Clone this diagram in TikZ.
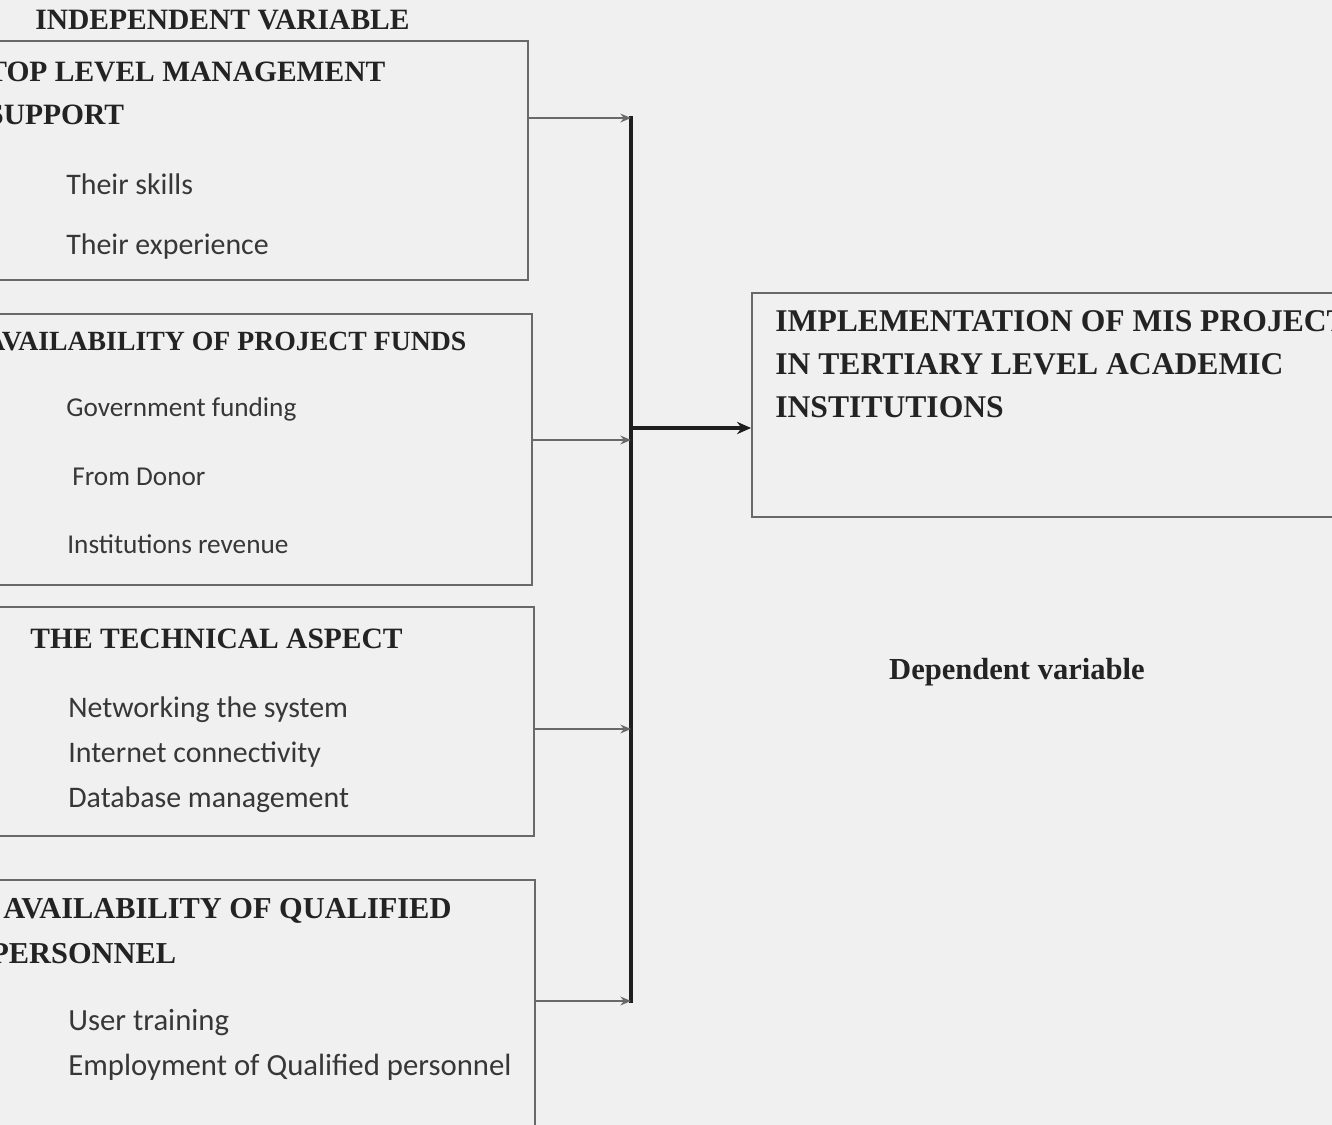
\documentclass[tikz,border=0pt]{standalone}
\usepackage{fontspec}
\setmainfont{Liberation Serif}
\newfontfamily\itemfont{Carlito}
\usetikzlibrary{fit,arrows.meta}
\definecolor{bgc}{RGB}{240,240,240}
\definecolor{linec}{RGB}{105,105,105}
\definecolor{barc}{RGB}{30,30,30}
\definecolor{txtc}{RGB}{35,35,35}
\definecolor{itemc}{RGB}{55,55,55}
\begin{document}
\begin{tikzpicture}[x=0.02cm,y=-0.02cm,
  box/.style={draw=linec, line width=1.1pt, inner sep=0pt},
  head/.style={anchor=west, inner sep=0pt, text=txtc, font=\bfseries\fontsize{16.8}{20}\selectfont},
  headsm/.style={head, font=\bfseries\fontsize{15.8}{18}\selectfont},
  headlg/.style={head, font=\bfseries\fontsize{17.3}{20}\selectfont},
  tgthead/.style={head, font=\bfseries\fontsize{18}{22}\selectfont},
  item/.style={anchor=west, inner sep=0pt, text=itemc, font=\itemfont\fontsize{17}{20}\selectfont},
  itemsm/.style={item, font=\itemfont\fontsize{15.5}{18}\selectfont},
  itemlg/.style={item, font=\itemfont\fontsize{17.5}{20}\selectfont},
  feed/.style={draw=linec, line width=1.1pt, -{Stealth[length=6pt,width=5pt]}},
  bar/.style={draw=barc, line width=2.8pt, line cap=rect}
]
\fill[bgc] (0,0) rectangle (1332,1125);
\useasboundingbox (0,0) rectangle (1332,1125);
\clip (0,0) rectangle (1332,1125);

\node[head, font=\bfseries\fontsize{16.8}{20}\selectfont] (title) at (35,20) {INDEPENDENT VARIABLE};

% box 1
\coordinate (b1a) at (-10,41); \coordinate (b1b) at (528,280);
\node[box, fit=(b1a)(b1b)] (b1) {};
\node[head] (h1a) at (-13,72) {TOP LEVEL MANAGEMENT};
\node[head] (h1b) at (-13,115) {SUPPORT};
\node[item] (i1a) at (66,184) {Their skills};
\node[item] (i1b) at (66,247) {Their experience};

% box 2
\coordinate (b2a) at (-10,314); \coordinate (b2b) at (532,585);
\node[box, fit=(b2a)(b2b)] (b2) {};
\node[headsm] (h2) at (-15,342) {AVAILABILITY OF PROJECT FUNDS};
\node[itemsm] (i2a) at (66,409) {Government funding};
\node[itemsm] (i2b) at (72,477) {From Donor};
\node[itemsm] (i2c) at (67,544) {Institutions revenue};

% box 3
\coordinate (b3a) at (-10,607); \coordinate (b3b) at (534,836);
\node[box, fit=(b3a)(b3b)] (b3) {};
\node[head] (h3) at (30,639) {THE TECHNICAL ASPECT};
\node[item] (i3a) at (68,710) {Networking the system};
\node[item] (i3b) at (68,755) {Internet connectivity};
\node[item] (i3c) at (68,800) {Database management};

% box 4
\coordinate (b4a) at (-10,880); \coordinate (b4b) at (535,1140);
\node[box, fit=(b4a)(b4b)] (b4) {};
\node[headlg] (h4a) at (3,911) {AVAILABILITY OF QUALIFIED};
\node[headlg] (h4b) at (-10,954) {PERSONNEL};
\node[itemlg] (i4a) at (68,1023) {User training};
\node[itemlg] (i4b) at (68,1067) {Employment of Qualified personnel};

% target
\coordinate (ta) at (752,293); \coordinate (tb) at (1345,517);
\node[box, fit=(ta)(tb)] (tgt) {};
\node[tgthead] (t1) at (775,321) {IMPLEMENTATION OF MIS PROJECT};
\node[tgthead] (t2) at (775,364) {IN TERTIARY LEVEL ACADEMIC};
\node[tgthead] (t3) at (775,407) {INSTITUTIONS};

\node[inner sep=0pt, text=txtc, font=\bfseries\fontsize{17.4}{20}\selectfont] (dv) at (1017,672) {Dependent variable};

% connectors
\coordinate (j1) at (631,118);
\coordinate (j2) at (631,440);
\coordinate (j3) at (631,729);
\coordinate (j4) at (631,1001);
\coordinate (jm) at (631,428);
\draw[bar] (j1) -- (j4);
\draw[feed] (b1.east |- j1) -- (j1);
\draw[feed] (b2.east |- j2) -- (j2);
\draw[feed] (b3.east |- j3) -- (j3);
\draw[feed] (b4.east |- j4) -- (j4);
\draw[bar, line cap=butt, -{Stealth[length=8pt,width=7pt]}] (jm) -- (tgt.west |- jm);
\end{tikzpicture}
\end{document}
